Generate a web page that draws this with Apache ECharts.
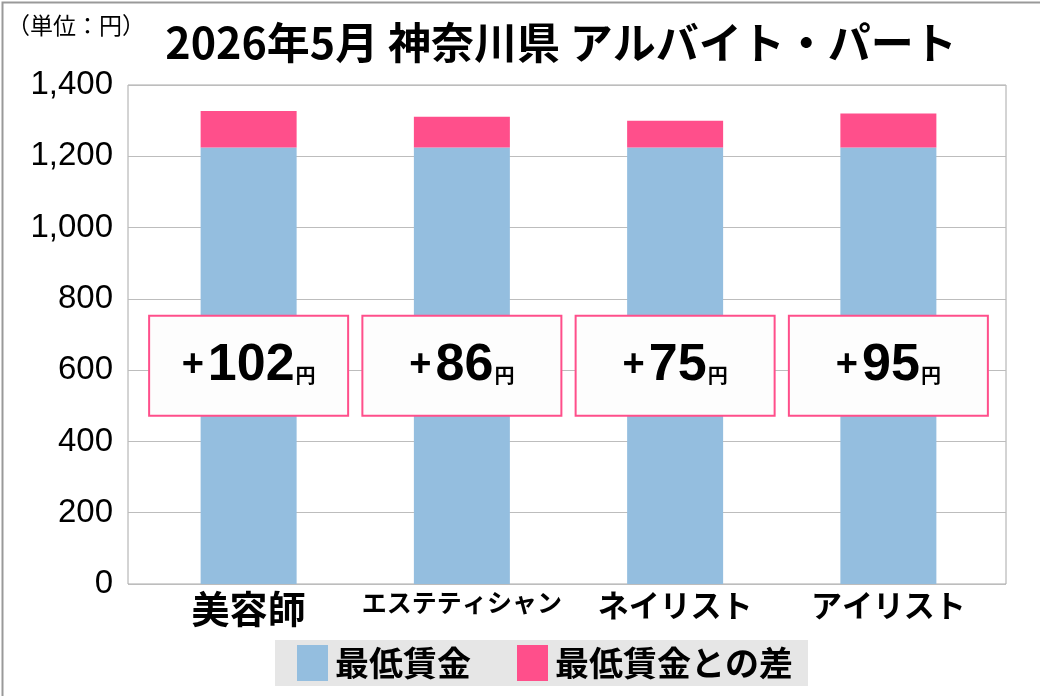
<!DOCTYPE html>
<html><head><meta charset="utf-8">
<script src="https://cdn.jsdelivr.net/npm/echarts@6/dist/echarts.min.js"></script>
<style>html,body{margin:0;padding:0;background:#fff}#c{width:1040px;height:696px;box-sizing:border-box}</style>
</head><body><div id="c"></div>
<script>
const categories = ['美容師', 'エステティシャン', 'ネイリスト', 'アイリスト'];
const minWage = [1225, 1225, 1225, 1225];
const diff = [102, 86, 75, 95];
const yTicks = [0, 200, 400, 600, 800, 1000, 1200, 1400];
const seriesNames = ['最低賃金', '最低賃金との差'];
const title = '2026年5月 神奈川県 アルバイト・パート';
const unitLabel = '（単位：円）';

const chart = echarts.init(document.getElementById('c'), null, {renderer: 'canvas'});
const latin = '"Liberation Sans", Arial, sans-serif';
const cjk = '"Noto Sans CJK JP", sans-serif';
const labelSize = {'美容師': 's38', 'エステティシャン': 's25', 'ネイリスト': 's31', 'アイリスト': 's31'};

chart.setOption({
  backgroundColor: '#fff',
  animation: false,
  title: [
    {text: title, left: 556, top: 16, textAlign: 'center',
     textStyle: {fontFamily: cjk, fontSize: 43, fontWeight: 'bold', color: '#000'}},
    {text: unitLabel, left: 2, top: 9,
     textStyle: {fontFamily: cjk, fontSize: 23, fontWeight: 'normal', color: '#000'}}
  ],
  legend: {
    data: seriesNames, left: 275, top: 640,
    backgroundColor: '#e6e6e6', padding: [5, 15, 5, 22],
    itemWidth: 31, itemHeight: 36, itemGap: 46, icon: 'rect',
    textStyle: {fontFamily: cjk, fontSize: 34, fontWeight: 'bold', color: '#000', padding: [0, 0, 0, 2]}
  },
  grid: [
    {left: 128, right: 34, top: 85, bottom: 112, show: true, borderColor: '#a8a8a8', borderWidth: 1},
    {left: 142, right: 45, top: 85, bottom: 112}
  ],
  xAxis: [
    {type: 'value', gridIndex: 0, show: false},
    {type: 'category', gridIndex: 1, data: categories,
     axisLine: {show: false}, axisTick: {show: false},
     axisLabel: {interval: 0, margin: 6, color: '#000',
       formatter: v => '{' + labelSize[v] + '|' + v + '}',
       rich: {
         s38: {fontFamily: cjk, fontSize: 38, fontWeight: 'bold', color: '#000'},
         s31: {fontFamily: cjk, fontSize: 31, fontWeight: 'bold', color: '#000'},
         s25: {fontFamily: cjk, fontSize: 25, fontWeight: 'bold', color: '#000'}
       }}}
  ],
  yAxis: [
    {type: 'value', gridIndex: 0, min: 0, max: 1400, interval: 200,
     axisLine: {show: false}, axisTick: {show: false},
     splitLine: {lineStyle: {color: '#bdbdbd', width: 1}},
     axisLabel: {margin: 15, color: '#000', fontFamily: latin, fontSize: 33,
       formatter: v => yTicks.includes(v) ? v.toLocaleString('en-US') : ''}},
    {type: 'value', gridIndex: 1, min: 0, max: 1400, interval: 200, show: false, splitLine: {show: false}}
  ],
  series: [
    {name: seriesNames[0], type: 'bar', stack: 'w', xAxisIndex: 1, yAxisIndex: 1,
     data: minWage, barWidth: 96, itemStyle: {color: '#94bedf'},
     label: {show: true, position: 'inside',
       formatter: p => '{p|+}{n|' + diff[p.dataIndex] + '}{u|円}',
       width: 197, align: 'center', verticalAlign: 'middle', padding: [19, 0, 19, 0],
       backgroundColor: '#fdfdfd', borderColor: '#ff4f8b', borderWidth: 2,
       rich: {
         p: {fontFamily: latin, fontSize: 38, fontWeight: 'bold', color: '#000', lineHeight: 60, padding: [0, 4, 0, 0]},
         n: {fontFamily: latin, fontSize: 52, fontWeight: 'bold', color: '#000', lineHeight: 60},
         u: {fontFamily: cjk, fontSize: 20, fontWeight: 'bold', color: '#000', lineHeight: 20, verticalAlign: 'bottom', padding: [0, 0, 10, 1]}
       }}},
    {name: seriesNames[1], type: 'bar', stack: 'w', xAxisIndex: 1, yAxisIndex: 1,
     data: diff, barWidth: 96, itemStyle: {color: '#ff4f8b'}}
  ],
  graphic: [
    {type: 'rect', left: 0, top: 0, shape: {width: 1039, height: 695},
     style: {fill: 'none', stroke: '#999', lineWidth: 2}, silent: true}
  ]
});
</script></body></html>
